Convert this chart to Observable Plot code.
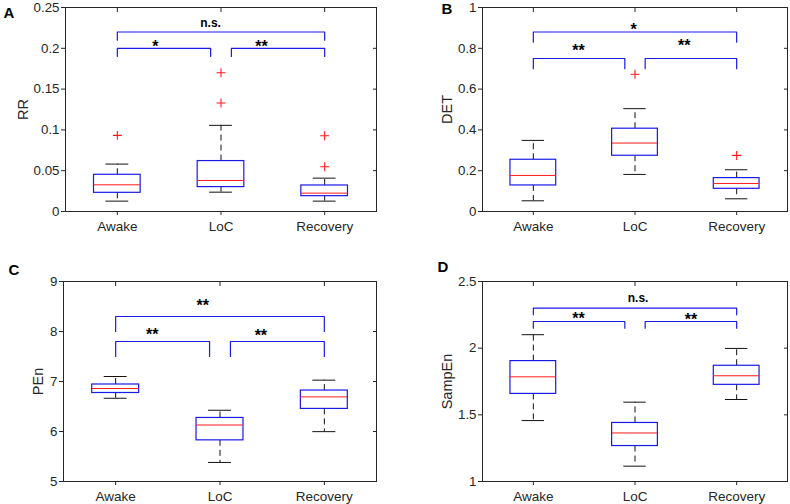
<!DOCTYPE html>
<html><head><meta charset="utf-8">
<script src="https://cdn.jsdelivr.net/npm/d3@7"></script>
<script src="https://cdn.jsdelivr.net/npm/@observablehq/plot@0.6"></script>
<style>
body{margin:0;background:#fff;}
#chart{position:relative;width:790px;height:504px;background:#fff;overflow:hidden;}
#chart > .panel{position:absolute;}
</style></head><body><div id="chart"></div>
<script>
const groups = ["Awake", "LoC", "Recovery"];
const groupPos = [1, 2, 3];

// Brackets: Awake–LoC, LoC–Recovery, Awake–Recovery
const bracketFrom = [1, 2.1, 1];
const bracketTo = [1.9, 3, 3];

// Panel A: RR
const rrTicks = [0, 0.05, 0.1, 0.15, 0.2, 0.25];
const rrLow = [0.0127, 0.0237, 0.0127];
const rrQ1 = [0.0229, 0.0299, 0.0188];
const rrMed = [0.0327, 0.0380, 0.0225];
const rrQ3 = [0.0450, 0.0618, 0.0319];
const rrHigh = [0.0581, 0.1056, 0.0409];
const rrOutGroup = ["Awake", "LoC", "LoC", "Recovery", "Recovery"];
const rrOutValue = [0.0933, 0.170, 0.133, 0.0929, 0.0548];
const rrBracketTop = [0.2, 0.2, 0.22];
const rrBracketTail = [0.19, 0.19, 0.21];
const rrSigText = ["*", "**", "n.s."];
const rrSigX = [1.336, 2.33, 1.80];
const rrSigY = [0.196, 0.196, 0.226];

// Panel B: DET
const detTicks = [0, 0.2, 0.4, 0.6, 0.8, 1];
const detLow = [0.0524, 0.1817, 0.0622];
const detQ1 = [0.1277, 0.2733, 0.1113];
const detMed = [0.1768, 0.3355, 0.1375];
const detQ3 = [0.2537, 0.4059, 0.1637];
const detHigh = [0.3486, 0.5041, 0.2046];
const detOutGroup = ["LoC", "Recovery"];
const detOutValue = [0.6727, 0.275];
const detBracketTop = [0.75, 0.75, 0.88];
const detBracketTail = [0.70, 0.70, 0.83];
const detSigText = ["**", "**", "*"];
const detSigX = [1.382, 2.424, 1.955];
const detSigY = [0.763, 0.785, 0.866];

// Panel C: PEn
const penTicks = [5, 6, 7, 8, 9];
const penLow = [6.665, 5.381, 5.997];
const penQ1 = [6.77, 5.823, 6.452];
const penMed = [6.86, 6.13, 6.692];
const penQ3 = [6.94, 6.271, 6.819];
const penHigh = [7.10, 6.425, 7.027];
const penOutGroup = [];
const penOutValue = [];
const penBracketTop = [7.8, 7.8, 8.3];
const penBracketTail = [7.5, 7.5, 8.0];
const penSigText = ["**", "**", "**"];
const penSigX = [1.291, 2.332, 1.774];
const penSigY = [7.83, 7.82, 8.41];

// Panel D: SampEn
const sampTicks = [1, 1.5, 2, 2.5];
const sampLow = [1.457, 1.115, 1.615];
const sampQ1 = [1.657, 1.266, 1.725];
const sampMed = [1.785, 1.364, 1.793];
const sampQ3 = [1.903, 1.439, 1.868];
const sampHigh = [2.101, 1.595, 1.998];
const sampOutGroup = [];
const sampOutValue = [];
const sampBracketTop = [2.2, 2.2, 2.3];
const sampBracketTail = [2.15, 2.15, 2.25];
const sampSigText = ["**", "**", "n.s."];
const sampSigX = [1.382, 2.489, 1.929];
const sampSigY = [2.18, 2.173, 2.345];

const AX = "#262626";
const BLUE = "#1a1ae6";
const RED = "#ff1a1a";
const FONT = "'Liberation Sans', Arial, Helvetica, sans-serif";
const fmt = d3.format("~g");

function panel(p) {
  const boxes = groups.map((g, i) => ({
    x: groupPos[i], low: p.low[i], q1: p.q1[i], med: p.med[i], q3: p.q3[i], high: p.high[i]
  }));
  const outliers = p.outGroup.map((g, i) => ({x: groupPos[groups.indexOf(g)], y: p.outValue[i]}));
  const brackets = [];
  bracketFrom.forEach((f, b) => {
    const t = bracketTo[b];
    brackets.push({id: b, x: f, y: p.tail[b]}, {id: b, x: f, y: p.top[b]},
                  {id: b, x: t, y: p.top[b]}, {id: b, x: t, y: p.tail[b]});
  });
  const sig = p.sigText.map((s, i) => ({text: s, x: p.sigX[i], y: p.sigY[i]}));
  const bw = 0.225, cw = 0.11;
  const chart = Plot.plot({
    width: p.w, height: p.h,
    marginLeft: p.ml, marginRight: p.mr, marginTop: p.mt, marginBottom: p.mb,
    x: {type: "linear", domain: [0.5, 3.5]},
    y: {type: "linear", domain: p.domain},
    style: {fontFamily: FONT, fontSize: "13px", color: AX, background: "white", overflow: "visible"},
    marks: [
      Plot.frame({stroke: AX}),
      Plot.axisY({anchor: "left", ticks: p.ticks, tickFormat: fmt, tickSize: 4, tickPadding: 2, label: null, fontSize: 13.3, color: AX}),
      Plot.axisY({anchor: "right", ticks: p.ticks, tickSize: 4, dx: -4, fill: "none", label: null, stroke: AX}),
      Plot.axisX({anchor: "bottom", ticks: groupPos, tickFormat: (d) => groups[Math.round(d) - 1], tickSize: 4, tickPadding: 6, label: null, fontSize: 13.5, color: AX}),
      Plot.axisX({anchor: "top", ticks: groupPos, tickSize: 4, dy: 4, fill: "none", label: null, stroke: AX}),
      Plot.ruleX(boxes, {x: "x", y1: "q3", y2: "high", stroke: "#111", strokeDasharray: "6,4"}),
      Plot.ruleX(boxes, {x: "x", y1: "q1", y2: "low", stroke: "#111", strokeDasharray: "6,4"}),
      Plot.ruleY(boxes, {y: "high", x1: (d) => d.x - cw, x2: (d) => d.x + cw, stroke: "#111"}),
      Plot.ruleY(boxes, {y: "low", x1: (d) => d.x - cw, x2: (d) => d.x + cw, stroke: "#111"}),
      Plot.rect(boxes, {x1: (d) => d.x - bw, x2: (d) => d.x + bw, y1: "q1", y2: "q3", fill: "white", stroke: BLUE, strokeWidth: 1.2}),
      Plot.ruleY(boxes, {y: "med", x1: (d) => d.x - bw, x2: (d) => d.x + bw, stroke: RED}),
      Plot.dot(outliers, {x: "x", y: "y", symbol: "plus", r: 3, stroke: RED, strokeWidth: 1.1}),
      Plot.line(brackets, {x: "x", y: "y", z: "id", stroke: BLUE, strokeWidth: 1.2, curve: "linear"}),
      Plot.text(sig, {x: "x", y: "y", text: "text", textAnchor: "start", lineAnchor: "bottom",
        fontWeight: "bold", fontSize: (d) => d.text === "n.s." ? 12 : 16, fill: "black"}),
      Plot.text([p.ylabel], {frameAnchor: "left", rotate: -90, dx: p.ylDx, textAnchor: "middle", lineAnchor: "bottom", fontSize: 14.5, fill: AX}),
      Plot.text([p.letter], {frameAnchor: "top-left", dx: p.lDx, dy: p.lDy, textAnchor: "start", lineAnchor: "bottom", fontSize: 15, fontWeight: "bold", fill: "black"})
    ]
  });
  const div = document.createElement("div");
  div.className = "panel";
  div.style.left = p.left + "px";
  div.style.top = p.topPx + "px";
  div.appendChild(chart);
  document.getElementById("chart").appendChild(div);
}

panel({letter: "A", ylabel: "RR", ticks: rrTicks, domain: [0, 0.25],
  low: rrLow, q1: rrQ1, med: rrMed, q3: rrQ3, high: rrHigh, outGroup: rrOutGroup, outValue: rrOutValue,
  top: rrBracketTop, tail: rrBracketTail, sigText: rrSigText, sigX: rrSigX, sigY: rrSigY,
  w: 395, h: 252, ml: 65, mr: 19, mt: 7, mb: 41, left: 0, topPx: 0, ylDx: -38, lDx: -62, lDy: 10});
panel({letter: "B", ylabel: "DET", ticks: detTicks, domain: [0, 1],
  low: detLow, q1: detQ1, med: detMed, q3: detQ3, high: detHigh, outGroup: detOutGroup, outValue: detOutValue,
  top: detBracketTop, tail: detBracketTail, sigText: detSigText, sigX: detSigX, sigY: detSigY,
  w: 395, h: 252, ml: 87, mr: 3, mt: 7, mb: 41, left: 395, topPx: 0, ylDx: -31, lDx: -41, lDy: 6});
panel({letter: "C", ylabel: "PEn", ticks: penTicks, domain: [5, 9],
  low: penLow, q1: penQ1, med: penMed, q3: penQ3, high: penHigh, outGroup: penOutGroup, outValue: penOutValue,
  top: penBracketTop, tail: penBracketTail, sigText: penSigText, sigX: penSigX, sigY: penSigY,
  w: 395, h: 252, ml: 63, mr: 19, mt: 29, mb: 23, left: 0, topPx: 252, ylDx: -21, lDx: -55, lDy: -7});
panel({letter: "D", ylabel: "SampEn", ticks: sampTicks, domain: [1, 2.5],
  low: sampLow, q1: sampQ1, med: sampMed, q3: sampQ3, high: sampHigh, outGroup: sampOutGroup, outValue: sampOutValue,
  top: sampBracketTop, tail: sampBracketTail, sigText: sampSigText, sigX: sampSigX, sigY: sampSigY,
  w: 395, h: 252, ml: 87, mr: 3, mt: 29, mb: 23, left: 395, topPx: 252, ylDx: -31, lDx: -45, lDy: -10});
</script></body></html>
